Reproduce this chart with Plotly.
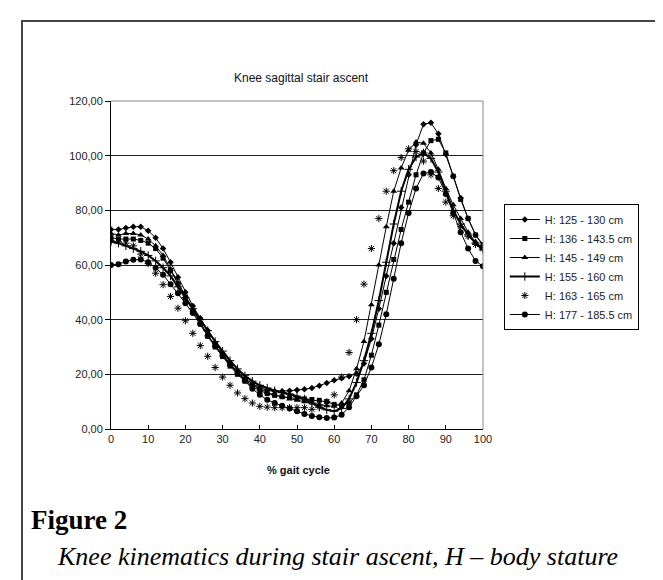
import plotly.graph_objects as go

gait = [0, 2, 4, 6, 8, 10, 12, 14, 16, 18, 20, 22, 24, 26, 28, 30, 32, 34, 36, 38, 40,
        42, 44, 46, 48, 50, 52, 54, 56, 58, 60, 62, 64, 66, 68, 70, 72, 74, 76, 78, 80,
        82, 84, 86, 88, 90, 92, 94, 96, 98, 100]

names = ["H: 125 - 130 cm", "H: 136 - 143.5 cm", "H: 145 - 149 cm",
         "H: 155 - 160 cm", "H: 163 - 165 cm", "H: 177 - 185.5 cm"]

h125 = [73, 73, 73.5, 74, 74, 72.5, 70, 66, 61, 55.5, 50, 45, 40.5, 36, 31.5, 27.5, 24, 21, 18.5, 16.5, 15,
        14.2, 13.8, 13.8, 14, 14.3, 14.5, 15, 15.8, 16.8, 17.8, 18.6, 19.3, 20.2, 24, 33, 44, 56, 68, 81, 93,
        104, 111.5, 112, 108, 100.5, 92.5, 84.5, 77, 71, 67]
h136 = [70, 69.5, 69.5, 69.5, 69, 68, 66, 62.5, 58, 53, 48, 43, 38.5, 34, 30, 26.5, 23, 20, 17.5, 15.5, 14,
        13, 12.3, 11.8, 11.5, 11.2, 11, 10.8, 10.5, 10, 9, 8.5, 9.5, 12.5, 18, 27, 38, 50, 62, 73, 83,
        93, 101, 105.5, 106, 101, 92.5, 84, 77, 71, 67.5]
h145 = [71.5, 71, 71.5, 71.5, 71, 69.5, 67, 63.5, 58.5, 53.5, 48.5, 43.5, 39, 34.5, 30.5, 27, 23.5, 20.5, 18, 16, 14.5,
        13.3, 12.5, 11.8, 11, 10.5, 10, 9.5, 9, 8.5, 8.3, 9.5, 14, 22, 32, 45.5, 60, 74, 87, 95.5, 102,
        105, 104.5, 101, 95, 88, 82, 77, 72, 68.5, 66]
h155 = [68.5, 68, 67, 66, 65, 63.5, 61.5, 59, 56, 52, 48, 44, 40, 36, 32, 28.5, 25, 22, 19.5, 17.5, 16,
        15, 14, 13.3, 12.8, 12, 11, 9.5, 8, 7, 6.5, 7.5, 11, 17, 25, 35, 47, 61, 75, 87, 95,
        99.5, 101, 99, 94, 87, 80, 75, 71, 68, 65.5]
h163 = [69, 68.5, 68, 67, 64, 60.5, 57, 52.8, 48.5, 44.2, 39.6, 35, 30.5, 26.6, 22.5, 19, 16, 13.2, 11.1, 9.5, 8.3,
        8, 7.8, 7.8, 7.8, 7.8, 7.8, 7.2, 8, 10, 12.5, 19, 28, 40, 53, 66, 77, 87, 94.5, 99.3, 102.5,
        101.5, 98, 93, 88, 83, 78, 74, 70.5, 67.5, 66]
h177 = [60, 60.3, 61.3, 61.9, 62, 61, 59, 56.4, 53, 49.7, 46, 42.4, 38.4, 34, 30.5, 27, 23.8, 20.5, 17.7, 14.7, 12.5,
        10.7, 9.5, 8.5, 7.5, 6.5, 5.5, 4.8, 4.3, 4, 4.2, 5.2, 8, 12, 16, 22.5, 31, 42, 55, 68, 79,
        88, 93.5, 94, 92, 86, 79, 72, 66, 61.5, 59.5]

y_ticks = [0, 20, 40, 60, 80, 100, 120]
y_labels = ["0,00", "20,00", "40,00", "60,00", "80,00", "100,00", "120,00"]
x_ticks = [0, 10, 20, 30, 40, 50, 60, 70, 80, 90, 100]

series = [h125, h136, h145, h155, h163, h177]
styles = [
    dict(mode="lines+markers", line=dict(color="black", width=1), marker=dict(symbol="diamond", size=5, color="black")),
    dict(mode="lines+markers", line=dict(color="black", width=1), marker=dict(symbol="square", size=5, color="black")),
    dict(mode="lines+markers", line=dict(color="black", width=1), marker=dict(symbol="triangle-up", size=6, color="black")),
    dict(mode="lines+markers", line=dict(color="black", width=2), marker=dict(symbol="cross-thin", size=6, color="black", line=dict(width=1, color="black"))),
    dict(mode="markers", marker=dict(symbol="asterisk-open", size=6, color="black", line=dict(width=1, color="black"))),
    dict(mode="lines+markers", line=dict(color="black", width=1), marker=dict(symbol="circle", size=6, color="black")),
]

fig = go.Figure()
for nm, ys, st in zip(names, series, styles):
    fig.add_trace(go.Scatter(x=gait, y=ys, name=nm, **st))

F = "Liberation Sans, Arial, sans-serif"
fig.update_layout(
    width=663, height=580,
    margin=dict(l=103, r=188, t=93, b=159),
    paper_bgcolor="white", plot_bgcolor="white",
    font=dict(family=F, size=11, color="#222"),
    showlegend=True,
    legend=dict(x=1.056, y=0.686, xanchor="left", yanchor="top",
                bordercolor="black", borderwidth=1, bgcolor="white",
                font=dict(family=F, size=11, color="#222"),
                itemwidth=30, tracegroupgap=0),
    xaxis=dict(range=[0, 100], tickvals=x_ticks, ticks="inside", ticklen=4,
               tickcolor="black", showline=True, linecolor="black", linewidth=1,
               showgrid=False, zeroline=False, mirror=False),
    yaxis=dict(range=[0, 120], tickvals=y_ticks, ticktext=y_labels, ticks="outside",
               ticklen=5, tickcolor="black", showline=True, linecolor="black", linewidth=1,
               showgrid=True, gridcolor="#222", gridwidth=1, zeroline=False),
)

# plot area border (top/right grey)
fig.add_shape(type="line", xref="paper", yref="paper", x0=0, x1=1, y0=1, y1=1,
              line=dict(color="#888", width=1))
fig.add_shape(type="line", xref="paper", yref="paper", x0=1, x1=1, y0=0, y1=1,
              line=dict(color="#888", width=1))
# outer frame
fig.add_shape(type="rect", xref="paper", yref="paper",
              x0=(14 - 103) / 372, x1=(659 - 103) / 372,
              y0=(421 - 600) / 328, y1=(421 - 13) / 328,
              line=dict(color="#444", width=2), layer="below")

fig.add_annotation(text="Knee sagittal stair ascent", xref="paper", yref="paper",
                   x=(293 - 103) / 372, y=(421 - 70) / 328, showarrow=False,
                   xanchor="center", yanchor="middle", font=dict(family=F, size=12, color="#111"))
fig.add_annotation(text="<b>% gait cycle</b>", xref="paper", yref="paper",
                   x=(290 - 103) / 372, y=(421 - 462) / 328, showarrow=False,
                   xanchor="center", yanchor="middle", font=dict(family=F, size=11, color="#111"))
fig.add_annotation(text="<b>Figure 2</b>", xref="paper", yref="paper",
                   x=(21 - 103) / 372, y=(421 - 512) / 328, showarrow=False,
                   xanchor="left", yanchor="middle",
                   font=dict(family="Liberation Serif, serif", size=27, color="black"))
fig.add_annotation(text="<i>Knee kinematics during stair ascent, H – body stature</i>",
                   xref="paper", yref="paper",
                   x=(47 - 103) / 372, y=(421 - 548) / 328, showarrow=False,
                   xanchor="left", yanchor="middle",
                   font=dict(family="Liberation Serif, serif", size=26, color="black"))

fig.write_html("out.html")
